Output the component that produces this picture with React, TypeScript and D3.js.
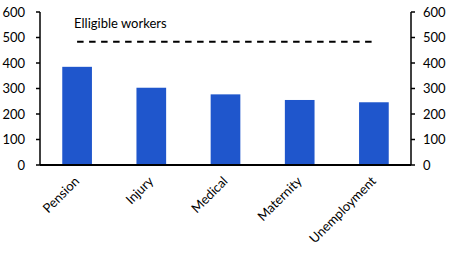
import React from "react";
import * as d3 from "d3";

const categories = ["Pension", "Injury", "Medical", "Maternity", "Unemployment"];
const values = [385, 303, 277, 255, 246];
const eligibleWorkers = 483;
const yTicks = [0, 100, 200, 300, 400, 500, 600];
const lineLabel = "Elligible workers";

const W = 453;
const H = 260;
const left = 40;
const right = 411;
const top = 12;
const bottom = 165;
const font = "Lato, 'Open Sans', sans-serif";

export default function App() {
  const x = d3.scaleBand<string>().domain(categories).range([left, right]).paddingInner(0.6).paddingOuter(0.3);
  const y = d3.scaleLinear().domain([0, 600]).range([bottom, top]);
  const firstC = x(categories[0])! + x.bandwidth() / 2;
  const lastC = x(categories[categories.length - 1])! + x.bandwidth() / 2;
  return (
    <svg width={W} height={H} style={{ position: "absolute", left: 0, top: 0, background: "#fff" }}>
      {categories.map((c, i) => (
        <rect key={c} x={x(c)} y={y(values[i])} width={x.bandwidth()} height={y(0) - y(values[i])} fill="#1f56cc" />
      ))}
      <line x1={firstC} x2={lastC} y1={y(eligibleWorkers)} y2={y(eligibleWorkers)} stroke="#000" strokeWidth={2} strokeDasharray="6.5,5.5" />
      <text x={firstC - 3} y={28} fontFamily={font} fontSize={13} fill="#000">{lineLabel}</text>
      <line x1={left} x2={left} y1={top} y2={bottom} stroke="#000" strokeWidth={1.5} />
      <line x1={right} x2={right} y1={top} y2={bottom} stroke="#000" strokeWidth={1.5} />
      <line x1={left} x2={right} y1={bottom} y2={bottom} stroke="#000" strokeWidth={2} />
      {yTicks.map((t) => (
        <g key={t}>
          <line x1={left - 4} x2={left} y1={y(t)} y2={y(t)} stroke="#000" strokeWidth={1.5} />
          <line x1={right} x2={right + 4} y1={y(t)} y2={y(t)} stroke="#000" strokeWidth={1.5} />
          <text x={25} y={y(t)} dy="0.35em" textAnchor="end" fontFamily={font} fontSize={13} fill="#000">{t}</text>
          <text x={423} y={y(t)} dy="0.35em" textAnchor="start" fontFamily={font} fontSize={13} fill="#000">{t}</text>
        </g>
      ))}
      {categories.map((c) => {
        const cx = x(c)! + x.bandwidth() / 2 + 3;
        const cy = bottom + 17;
        return (
          <text key={c} x={cx} y={cy} textAnchor="end" transform={`rotate(-45 ${cx} ${cy})`} fontFamily={font} fontSize={13} fill="#000">{c}</text>
        );
      })}
    </svg>
  );
}
